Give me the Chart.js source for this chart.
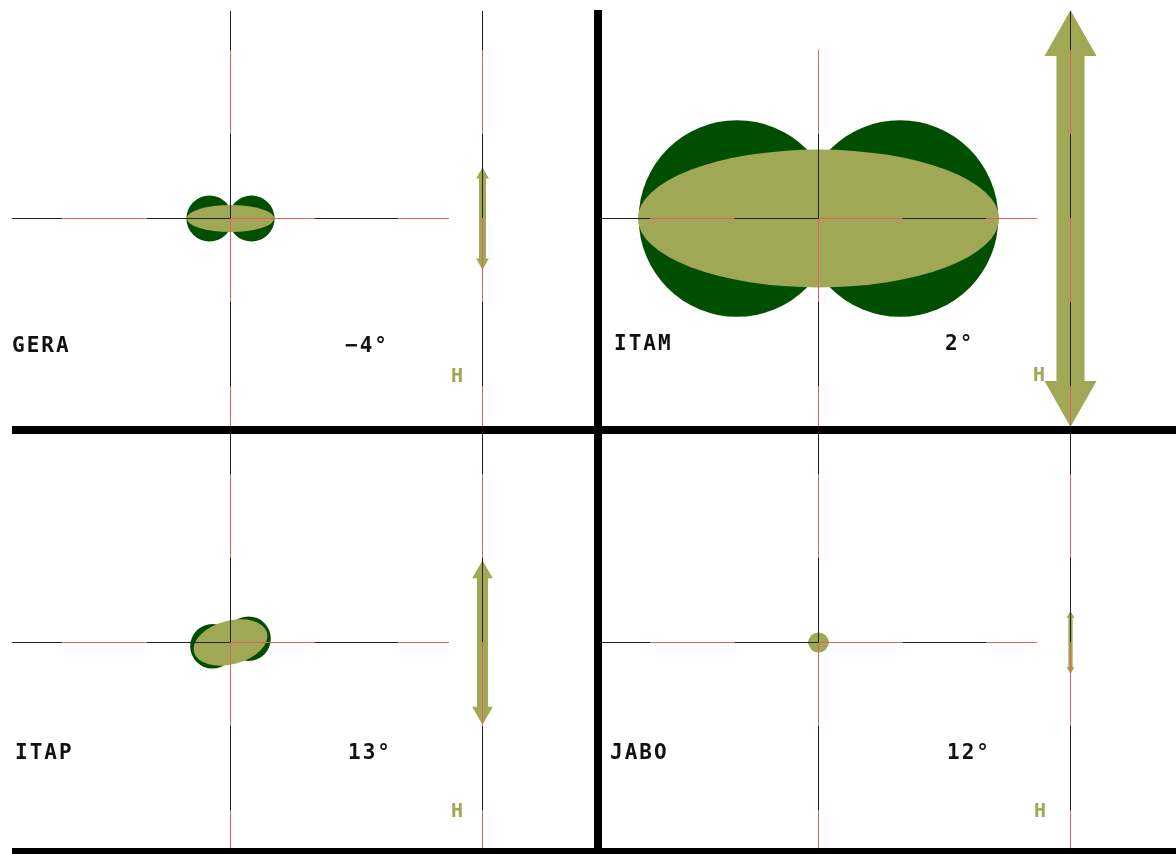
<!DOCTYPE html>
<html>
<head>
<meta charset="utf-8">
<script src="https://cdn.jsdelivr.net/npm/chart.js@4"></script>
<style>
  body { margin: 0; background: #fff; }
  #wrap { position: relative; width: 1176px; height: 854px; overflow: hidden; background: #fff; }
  #wrap canvas { position: absolute; }
  .bar { position: absolute; background: #000; }
</style>
</head>
<body>
<div id="wrap">
  <canvas id="p0" width="594" height="426" style="left:0;top:0"></canvas>
  <canvas id="p1" width="574" height="426" style="left:602px;top:0"></canvas>
  <canvas id="p2" width="594" height="414" style="left:0;top:434px"></canvas>
  <canvas id="p3" width="574" height="414" style="left:602px;top:434px"></canvas>
  <div class="bar" style="left:12px;top:426px;width:1164px;height:8px"></div>
  <div class="bar" style="left:12px;top:848px;width:1164px;height:6px"></div>
  <div class="bar" style="left:594px;top:10px;width:8px;height:844px"></div>
</div>
<script>
// station data, one entry per panel
const stations = ['GERA', 'ITAM', 'ITAP', 'JABO'];
const angles = [-4, 2, 13, 12];
// dark lobes (axis units)
const lobeOffset = [0.25, 0.97, 0.22, 0.05];
const lobeRadius = [0.275, 1.17, 0.265, 0.07];
const lobeTilt = [0, 0, 12, 0];
// olive ellipse (axis units)
const ellipseA = [0.52, 2.15, 0.45, 0.12];
const ellipseB = [0.16, 0.82, 0.26, 0.12];
const ellipseRot = [0, 0, 15, 0];
// H arrow half length
const arrowH = [0.61, 2.48, 0.98, 0.375];
// axis tick marks where the line colour changes
const axisTicks = [-2, -1, 0, 1, 2];
const axisEnd = 2.6;
const rightAxisX = 3;
const centerTop = [2.47, 2.0, 2.6, 2.6];
const rightTop = [2.47, 2.47, 2.6, 2.6];

const UNIT = 84;
const DARK = '#004f00';
const OLIVE = '#a0a855';
const RED = '#e2605f';
const BLACK = '#222';

// panel centre inside each canvas (px)
const centers = [[230.5, 218.5], [216.5, 218.5], [230.5, 208.5], [216.5, 208.5]];
const labelPos = [
    { name: [12, 347], ang: [345, 347], h: [457, 377] },
    { name: [12, 345], ang: [343, 345], h: [437, 376] },
    { name: [15, 320], ang: [348, 320], h: [457, 378] },
    { name: [8, 320], ang: [345, 320], h: [438, 378] }
];

function segColor(vertical) {
    return ctx => {
        const a = vertical ? ctx.p0.parsed.y : ctx.p0.parsed.x;
        const b = vertical ? ctx.p1.parsed.y : ctx.p1.parsed.x;
        const f = ((Math.floor((a + b) / 2) % 2) + 2) % 2;
        return f === (vertical ? 1 : 0) ? RED : BLACK;
    };
}

function hLine() {
    const xs = [-axisEnd, ...axisTicks, axisEnd];
    return xs.map(v => ({ x: v, y: 0 }));
}

function vLine(x, top) {
    const ys = [top, ...axisTicks.filter(v => v < top).reverse(), -axisEnd];
    return ys.map(v => ({ x: x, y: v }));
}

const motionPlugin = {
    id: 'motion',
    beforeDatasetsDraw(chart, args, opts) {
        const i = opts.station;
        const { ctx } = chart;
        const xs = chart.scales.x, ys = chart.scales.y;
        const px = v => xs.getPixelForValue(v);
        const py = v => ys.getPixelForValue(v);
        const u = px(1) - px(0);
        ctx.save();

        // dark lobes
        ctx.fillStyle = DARK;
        const t = lobeTilt[i] * Math.PI / 180;
        [-1, 1].forEach(s => {
            const cx = s * lobeOffset[i] * Math.cos(t);
            const cy = s * lobeOffset[i] * Math.sin(t);
            ctx.beginPath();
            ctx.arc(px(cx), py(cy), lobeRadius[i] * u, 0, Math.PI * 2);
            ctx.fill();
        });

        // olive ellipse
        ctx.fillStyle = OLIVE;
        ctx.beginPath();
        ctx.ellipse(px(0), py(0), ellipseA[i] * u, ellipseB[i] * u,
            -ellipseRot[i] * Math.PI / 180, 0, Math.PI * 2);
        ctx.fill();

        // H arrow on the right axis
        const L = arrowH[i];
        const ax = px(rightAxisX);
        const sw = 0.135 * L * u / 2, hw = 0.25 * L * u / 2, hl = 0.22 * L;
        ctx.beginPath();
        ctx.moveTo(ax, py(L));
        ctx.lineTo(ax + hw, py(L - hl));
        ctx.lineTo(ax + sw, py(L - hl));
        ctx.lineTo(ax + sw, py(-L + hl));
        ctx.lineTo(ax + hw, py(-L + hl));
        ctx.lineTo(ax, py(-L));
        ctx.lineTo(ax - hw, py(-L + hl));
        ctx.lineTo(ax - sw, py(-L + hl));
        ctx.lineTo(ax - sw, py(L - hl));
        ctx.lineTo(ax - hw, py(L - hl));
        ctx.closePath();
        ctx.fill();
        ctx.restore();
    },
    afterDatasetsDraw(chart, args, opts) {
        const i = opts.station;
        const { ctx } = chart;
        const p = labelPos[i];
        ctx.save();
        ctx.textBaseline = 'middle';
        ctx.textAlign = 'left';
        ctx.fillStyle = '#111';
        ctx.font = 'bold 21px "DejaVu Sans Mono"';
        ctx.letterSpacing = '2px';
        ctx.fillText(stations[i], p.name[0], p.name[1]);
        const a = angles[i] < 0 ? '\u2212' + Math.abs(angles[i]) : String(angles[i]);
        ctx.fillText(a + '\u00b0', p.ang[0], p.ang[1]);
        ctx.letterSpacing = '0px';
        ctx.fillStyle = OLIVE;
        ctx.textAlign = 'center';
        ctx.font = 'bold 20px "DejaVu Sans Mono"';
        ctx.fillText('H', p.h[0], p.h[1]);
        ctx.restore();
    }
};

stations.forEach((name, i) => {
    const canvas = document.getElementById('p' + i);
    const w = canvas.width, h = canvas.height;
    const [cx, cy] = centers[i];

    const lineStyle = {
        showLine: true,
        pointRadius: 0,
        borderWidth: 1,
        borderColor: BLACK,
        fill: false
    };

    new Chart(canvas, {
        type: 'scatter',
        data: {
            datasets: [
                { ...lineStyle, data: hLine(), segment: { borderColor: segColor(false) } },
                { ...lineStyle, data: vLine(0, centerTop[i]), segment: { borderColor: segColor(true) } },
                { ...lineStyle, data: vLine(rightAxisX, rightTop[i]), segment: { borderColor: segColor(true) } }
            ]
        },
        options: {
            responsive: false,
            animation: false,
            devicePixelRatio: 1,
            layout: { padding: 0 },
            plugins: {
                legend: { display: false },
                tooltip: { enabled: false },
                motion: { station: i }
            },
            scales: {
                x: { type: 'linear', display: false, min: -cx / UNIT, max: (w - cx) / UNIT },
                y: { type: 'linear', display: false, min: -(h - cy) / UNIT, max: cy / UNIT }
            }
        },
        plugins: [motionPlugin]
    });
});
</script>
</body>
</html>
